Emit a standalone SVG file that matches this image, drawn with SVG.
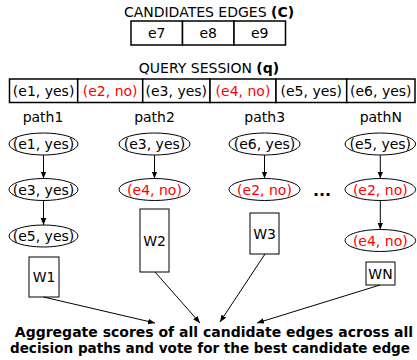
<svg xmlns="http://www.w3.org/2000/svg" width="417" height="360" viewBox="0 0 417 360">
<style>
text{font-family:"DejaVu Sans",sans-serif;font-size:14px;fill:#000}
.r{fill:#ff0000}
.b{font-weight:bold}
.c{text-anchor:middle}
.cell{fill:#fff;stroke:#000;stroke-width:1.5}
.el{fill:#fff;stroke:#000;stroke-width:1}
.w{fill:#fff;stroke:#000;stroke-width:1}
.ln{stroke:#000;stroke-width:1;fill:none;marker-end:url(#ah)}
</style>
<defs>
<marker id="ah" viewBox="0 0 10 10" refX="10" refY="5" markerWidth="7" markerHeight="7" markerUnits="userSpaceOnUse" orient="auto">
<path d="M0,1 L10,5 L0,9 Z" fill="#000"/>
</marker>
</defs>
<g id="candidates">
<text x="209" y="17" class="c">CANDIDATES EDGES <tspan class="b">(C)</tspan></text>
<rect class="cell" x="131" y="21" width="51.5" height="24"/>
<rect class="cell" x="182.5" y="21" width="51.5" height="24"/>
<rect class="cell" x="234" y="21" width="51.5" height="24"/>
<text x="156.7" y="38" class="c">e7</text>
<text x="208.2" y="38" class="c">e8</text>
<text x="259.7" y="38" class="c">e9</text>
</g>
<g id="query">
<text x="209" y="73" class="c">QUERY SESSION <tspan class="b">(q)</tspan></text>
<rect class="cell" x="9.5" y="79" width="68.2" height="23.5"/>
<rect class="cell" x="77.7" y="79" width="65" height="23.5"/>
<rect class="cell" x="142.7" y="79" width="67.3" height="23.5"/>
<rect class="cell" x="210" y="79" width="66" height="23.5"/>
<rect class="cell" x="276" y="79" width="70.7" height="23.5"/>
<rect class="cell" x="346.7" y="79" width="68.3" height="23.5"/>
<text x="43.6" y="96" class="c">(e1, yes)</text>
<text x="110.2" y="96" class="c r">(e2, no)</text>
<text x="176.3" y="96" class="c">(e3, yes)</text>
<text x="243" y="96" class="c r">(e4, no)</text>
<text x="311.3" y="96" class="c">(e5, yes)</text>
<text x="380.8" y="96" class="c">(e6, yes)</text>
</g>
<g id="path1">
<text x="43" y="122" class="c">path1</text>
<ellipse class="el" cx="43.5" cy="144" rx="34.5" ry="11"/>
<text x="43.5" y="149" class="c">(e1, yes)</text>
<ellipse class="el" cx="43.5" cy="189.5" rx="34.5" ry="11"/>
<text x="43.5" y="194.5" class="c">(e3, yes)</text>
<ellipse class="el" cx="43.5" cy="236" rx="34.5" ry="11"/>
<text x="43.5" y="241" class="c">(e5, yes)</text>
<rect class="w" x="29" y="257" width="30" height="40"/>
<text x="44" y="282" class="c">W1</text>
</g>
<g id="path2">
<text x="154.5" y="122" class="c">path2</text>
<ellipse class="el" cx="154.5" cy="144" rx="35.5" ry="11"/>
<text x="154.5" y="149" class="c">(e3, yes)</text>
<ellipse class="el" cx="154.5" cy="189.5" rx="35.5" ry="11"/>
<text x="154.5" y="194.5" class="c r">(e4, no)</text>
<rect class="w" x="140" y="209" width="29" height="63"/>
<text x="154.5" y="246" class="c">W2</text>
</g>
<g id="path3">
<text x="264.7" y="122" class="c">path3</text>
<ellipse class="el" cx="264.5" cy="144" rx="35.5" ry="11"/>
<text x="264.5" y="149" class="c">(e6, yes)</text>
<ellipse class="el" cx="264.5" cy="189.5" rx="35.5" ry="11"/>
<text x="264.5" y="194.5" class="c r">(e2, no)</text>
<rect class="w" x="250" y="213" width="29" height="41"/>
<text x="264.5" y="238.5" class="c">W3</text>
</g>
<g id="dots">
<text x="322" y="196" class="c b" style="font-size:16px">...</text>
</g>
<g id="pathN">
<text x="380.8" y="122" class="c">pathN</text>
<ellipse class="el" cx="380.3" cy="144" rx="35.3" ry="11"/>
<text x="380.3" y="149" class="c">(e5, yes)</text>
<ellipse class="el" cx="380.3" cy="189.5" rx="35.3" ry="11"/>
<text x="380.3" y="194.5" class="c r">(e2, no)</text>
<ellipse class="el" cx="380.3" cy="240.5" rx="35.3" ry="11"/>
<text x="380.3" y="245.5" class="c r">(e4, no)</text>
<rect class="w" x="366" y="262" width="29" height="23"/>
<text x="380.5" y="278.5" class="c">WN</text>
</g>
<g id="connectors">
<line class="ln" x1="43.5" y1="155" x2="43.5" y2="178.5"/>
<line class="ln" x1="43.5" y1="200.5" x2="43.5" y2="225"/>
<line class="ln" x1="154.5" y1="155" x2="154.5" y2="178.5"/>
<line class="ln" x1="264.5" y1="155" x2="264.5" y2="178.5"/>
<line class="ln" x1="380.3" y1="155" x2="380.3" y2="178.5"/>
<line class="ln" x1="380.3" y1="200.5" x2="380.3" y2="229.5"/>
<line class="ln" x1="43.5" y1="297" x2="155" y2="323"/>
<line class="ln" x1="155" y1="272" x2="200" y2="323"/>
<line class="ln" x1="265" y1="254" x2="220" y2="322"/>
<line class="ln" x1="380" y1="285" x2="257" y2="323"/>
</g>
<g id="caption">
<text x="214" y="336.5" class="c b">Aggregate scores of all candidate edges across all</text>
<text x="210" y="352.5" class="c b" style="font-size:13.5px" textLength="400" lengthAdjust="spacingAndGlyphs">decision paths and vote for the best candidate edge</text>
</g>
</svg>
